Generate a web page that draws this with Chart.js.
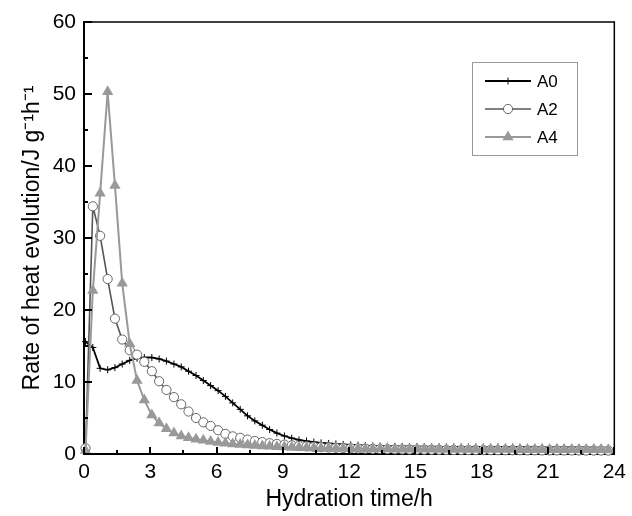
<!DOCTYPE html>
<html>
<head>
<meta charset="utf-8">
<script src="https://cdn.jsdelivr.net/npm/chart.js@4/dist/chart.umd.min.js"></script>
<style>
  html, body { margin: 0; padding: 0; background: #fff; }
  #wrap { width: 632px; height: 516px; }
</style>
</head>
<body>
<div id="wrap"><canvas id="heatChart" width="632" height="516"></canvas></div>
<script>
// hydration time (h) of each reading
const hours = [
  0.07, 0.4, 0.73, 1.07, 1.4, 1.73, 2.07, 2.4, 2.73,
  3.07, 3.4, 3.73, 4.07, 4.4, 4.73, 5.07, 5.4, 5.73,
  6.07, 6.4, 6.73, 7.07, 7.4, 7.73, 8.07, 8.4, 8.73,
  9.07, 9.4, 9.73, 10.07, 10.4, 10.73, 11.07, 11.4, 11.73,
  12.07, 12.4, 12.73, 13.07, 13.4, 13.73, 14.07, 14.4, 14.73,
  15.07, 15.4, 15.73, 16.07, 16.4, 16.73, 17.07, 17.4, 17.73,
  18.07, 18.4, 18.73, 19.07, 19.4, 19.73, 20.07, 20.4, 20.73,
  21.07, 21.4, 21.73, 22.07, 22.4, 22.73, 23.07, 23.4, 23.73
];

const seriesNames = ['A0', 'A2', 'A4'];

const rateA0 = [
  15.6, 14.8, 11.9, 11.7, 12.0, 12.5, 13.0, 13.3, 13.4,
  13.4, 13.2, 12.9, 12.5, 12.1, 11.5, 10.9, 10.2, 9.5,
  8.8, 8.0, 7.1, 6.2, 5.3, 4.6, 4.0, 3.4, 2.9,
  2.5, 2.2, 1.95, 1.8, 1.65, 1.55, 1.47, 1.4, 1.33,
  1.27, 1.22, 1.17, 1.13, 1.1, 1.08, 1.06, 1.05, 1.04,
  1.03, 1.02, 1.01, 1.0, 1.0, 0.99, 0.98, 0.98, 0.97,
  0.97, 0.96, 0.96, 0.95, 0.95, 0.94, 0.94, 0.93, 0.93,
  0.92, 0.92, 0.91, 0.91, 0.9, 0.9, 0.89, 0.89, 0.88
];

const rateA2 = [
  0.8, 34.4, 30.3, 24.3, 18.8, 15.9, 14.4, 13.8, 12.8,
  11.5, 10.1, 8.9, 7.9, 6.9, 5.9, 5.0, 4.4, 3.9,
  3.3, 2.8, 2.45, 2.25, 2.0, 1.8, 1.65, 1.5, 1.4,
  1.3, 1.2, 1.12, 1.05, 1.0, 0.95, 0.9, 0.86, 0.83,
  0.8, 0.77, 0.74, 0.71, 0.69, 0.67, 0.65, 0.63, 0.62,
  0.61, 0.6, 0.59, 0.58, 0.57, 0.56, 0.56, 0.55, 0.55,
  0.54, 0.54, 0.53, 0.53, 0.52, 0.52, 0.51, 0.51, 0.5,
  0.5, 0.5, 0.49, 0.49, 0.49, 0.48, 0.48, 0.48, 0.47
];

const rateA4 = [
  0.5, 22.7, 36.2, 50.3, 37.3, 23.7, 15.3, 10.2, 7.5,
  5.4, 4.3, 3.5, 2.9, 2.5, 2.25, 2.05, 1.9, 1.75,
  1.6, 1.5, 1.4, 1.32, 1.25, 1.18, 1.12, 1.07, 1.02,
  0.98, 0.94, 0.9, 0.87, 0.84, 0.81, 0.79, 0.77, 0.75,
  0.73, 0.72, 0.71, 0.7, 0.69, 0.68, 0.67, 0.67, 0.66,
  0.66, 0.65, 0.65, 0.64, 0.64, 0.63, 0.63, 0.63, 0.62,
  0.62, 0.62, 0.61, 0.61, 0.61, 0.6, 0.6, 0.6, 0.6,
  0.59, 0.59, 0.59, 0.59, 0.58, 0.58, 0.58, 0.58, 0.57
];

const xTicks = [0, 3, 6, 9, 12, 15, 18, 21, 24];
const yTicks = [0, 10, 20, 30, 40, 50, 60];

const FONT = '"Liberation Sans", Arial, Helvetica, sans-serif';

function points(values) {
  return hours.map((h, i) => ({ x: h, y: values[i] }));
}

// frame on top/right and tick marks pointing into the plot
const frameTicks = {
  id: 'frameTicks',
  afterDatasetsDraw(chart) {
    const { ctx, chartArea: a, scales: { x, y } } = chart;
    ctx.save();
    ctx.strokeStyle = '#000';
    ctx.lineWidth = 1.5;
    ctx.beginPath();
    ctx.moveTo(a.left, a.top);
    ctx.lineTo(a.right, a.top);
    ctx.lineTo(a.right, a.bottom);
    ctx.stroke();

    ctx.lineWidth = 2;
    ctx.beginPath();
    for (let v = 0; v <= 60; v += 5) {
      const py = Math.round(y.getPixelForValue(v));
      const len = v % 10 === 0 ? 8 : 4;
      ctx.moveTo(a.left, py);
      ctx.lineTo(a.left + len, py);
    }
    for (let v = 0; v <= 24; v += 1.5) {
      const px = Math.round(x.getPixelForValue(v));
      const len = v % 3 === 0 ? 7 : 4;
      ctx.moveTo(px, a.bottom);
      ctx.lineTo(px, a.bottom - len);
    }
    ctx.stroke();
    ctx.restore();
  }
};

function drawMarker(ctx, style, cx, cy, ds) {
  ctx.beginPath();
  if (style === 'cross') {
    const r = ds.pointRadius;
    ctx.moveTo(cx, cy - r); ctx.lineTo(cx, cy + r);
    ctx.moveTo(cx - r, cy); ctx.lineTo(cx + r, cy);
    ctx.strokeStyle = ds.pointBorderColor;
    ctx.lineWidth = ds.pointBorderWidth;
    ctx.stroke();
  } else if (style === 'circle') {
    ctx.arc(cx, cy, ds.pointRadius, 0, Math.PI * 2);
    ctx.fillStyle = ds.pointBackgroundColor;
    ctx.fill();
    ctx.strokeStyle = ds.pointBorderColor;
    ctx.lineWidth = ds.pointBorderWidth;
    ctx.stroke();
  } else {
    const r = ds.pointRadius;
    ctx.moveTo(cx, cy - r);
    ctx.lineTo(cx + r * Math.sin(Math.PI * 2 / 3), cy - r * Math.cos(Math.PI * 2 / 3));
    ctx.lineTo(cx - r * Math.sin(Math.PI * 2 / 3), cy - r * Math.cos(Math.PI * 2 / 3));
    ctx.closePath();
    ctx.fillStyle = ds.pointBackgroundColor;
    ctx.fill();
  }
}

// boxed legend with line + marker samples
const boxLegend = {
  id: 'boxLegend',
  afterDraw(chart) {
    const ctx = chart.ctx;
    ctx.save();
    ctx.strokeStyle = '#999';
    ctx.lineWidth = 1;
    ctx.strokeRect(472.5, 62.5, 105, 93);
    const rows = [81, 109, 137];
    chart.data.datasets.forEach((ds, i) => {
      const yy = rows[i];
      ctx.beginPath();
      ctx.moveTo(485, yy);
      ctx.lineTo(531, yy);
      ctx.strokeStyle = ds.borderColor;
      ctx.lineWidth = ds.borderWidth;
      ctx.stroke();
      drawMarker(ctx, ds.pointStyle, 508, yy, ds);
      ctx.fillStyle = '#000';
      ctx.font = '17px ' + FONT;
      ctx.textBaseline = 'middle';
      ctx.textAlign = 'left';
      ctx.fillText(seriesNames[i], 537, yy + 1);
    });
    ctx.restore();
  }
};

new Chart(document.getElementById('heatChart'), {
  type: 'line',
  data: {
    datasets: [
      {
        label: seriesNames[0],
        data: points(rateA0),
        borderColor: '#000',
        borderWidth: 1.8,
        pointStyle: 'cross',
        pointRadius: 3.5,
        pointBorderColor: '#000',
        pointBorderWidth: 1,
        pointBackgroundColor: '#000',
        order: 3
      },
      {
        label: seriesNames[1],
        data: points(rateA2),
        borderColor: '#555',
        borderWidth: 1.6,
        pointStyle: 'circle',
        pointRadius: 4.6,
        pointBorderColor: '#666',
        pointBorderWidth: 1,
        pointBackgroundColor: '#fff',
        order: 2
      },
      {
        label: seriesNames[2],
        data: points(rateA4),
        borderColor: '#999',
        borderWidth: 2,
        pointStyle: 'triangle',
        pointRadius: 6.5,
        pointBorderColor: '#999',
        pointBorderWidth: 0,
        pointBackgroundColor: '#999',
        order: 1
      }
    ]
  },
  options: {
    responsive: false,
    animation: false,
    devicePixelRatio: 1,
    clip: false,
    layout: { padding: { top: 22, right: 12, left: 0, bottom: 0 } },
    plugins: { legend: { display: false }, tooltip: { enabled: false } },
    scales: {
      x: {
        type: 'linear',
        min: 0,
        max: 24,
        afterFit: (s) => { s.height = 62; },
        afterBuildTicks: (s) => { s.ticks = xTicks.map(v => ({ value: v })); },
        grid: { display: false, drawTicks: false },
        border: { display: true, color: '#000', width: 2 },
        ticks: { color: '#000', padding: 6, font: { family: FONT, size: 21 }, maxRotation: 0 },
        title: {
          display: true,
          text: 'Hydration time/h',
          color: '#000',
          font: { family: FONT, size: 23 },
          padding: { top: 0, bottom: 3 }
        }
      },
      y: {
        type: 'linear',
        min: 0,
        max: 60,
        afterFit: (s) => { s.width = 84; },
        afterBuildTicks: (s) => { s.ticks = yTicks.map(v => ({ value: v })); },
        grid: { display: false, drawTicks: false },
        border: { display: true, color: '#000', width: 2 },
        ticks: { color: '#000', padding: 8, font: { family: FONT, size: 21 } },
        title: {
          display: true,
          text: 'Rate of heat evolution/J g\u207B\u00B9h\u207B\u00B9',
          color: '#000',
          font: { family: FONT, size: 23 },
          padding: { top: 19, bottom: 0 }
        }
      }
    }
  },
  plugins: [frameTicks, boxLegend]
});
</script>
</body>
</html>
